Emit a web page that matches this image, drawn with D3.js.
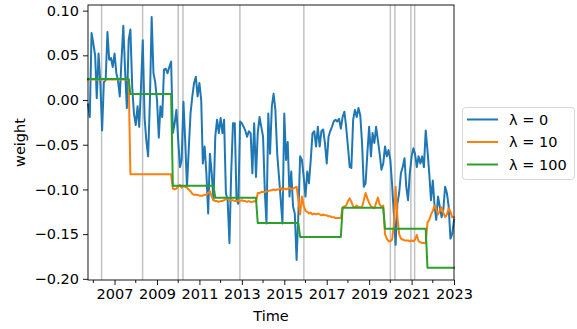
<!DOCTYPE html>
<html>
<head>
<meta charset="utf-8">
<script src="https://cdn.jsdelivr.net/npm/d3@7"></script>
<style>
  html, body { margin: 0; padding: 0; background: #fff; }
  svg { display: block; font-family: "DejaVu Sans", sans-serif; }
</style>
</head>
<body>
<svg id="chart" width="577" height="329"></svg>
<script>
// Monthly portfolio weights, first observation October 2005
const startMonth = new Date(2005, 9, 1);

// λ = 0 (no smoothing penalty)
const weightLambda0 = [
  -0.005, -0.019, 0.075, 0.063, 0.050, 0.002, 0.052, 0.019, -0.034, 0.020, 0.022, 0.076,
  0.045, 0.047, 0.037, 0.052, 0.030, 0.022, 0.004, 0.045, 0.083, 0.034, -0.009, 0.067,
  0.079, 0.015, -0.015, -0.028, -0.007, -0.030, 0.015, 0.067, -0.020, -0.045, -0.063, 0.000,
  0.093, 0.030, 0.020, 0.000, -0.042, -0.007, -0.019, 0.034, 0.035, 0.030, 0.037, 0.043,
  -0.037, -0.026, -0.011, -0.045, -0.075, -0.067, -0.002, -0.045, -0.097, -0.056, -0.015, 0.004,
  0.019, 0.026, 0.004, 0.019, 0.000, -0.071, -0.052, -0.082, -0.127, -0.060, -0.082, -0.112,
  -0.041, -0.022, -0.037, -0.020, -0.037, -0.022, -0.104, -0.112, -0.160, -0.082, -0.026, -0.026,
  -0.112, -0.116, -0.024, -0.026, -0.030, -0.034, -0.041, -0.035, -0.037, -0.082, -0.026, -0.086,
  -0.037, -0.019, -0.030, -0.041, -0.104, -0.138, -0.015, -0.060, -0.007, 0.007, -0.011, -0.060,
  -0.085, -0.112, -0.138, -0.015, -0.067, -0.047, -0.108, -0.080, -0.119, -0.127, -0.179, -0.127,
  -0.063, -0.067, -0.086, -0.108, -0.080, -0.093, -0.067, -0.037, -0.035, -0.052, -0.030, -0.052,
  -0.035, -0.033, -0.048, -0.071, -0.041, -0.035, -0.030, -0.024, -0.022, -0.024, -0.021, -0.032,
  -0.019, -0.013, -0.030, -0.052, -0.075, -0.076, -0.022, -0.011, -0.019, -0.009, -0.017, -0.048,
  -0.097, -0.093, -0.060, -0.030, -0.063, -0.037, -0.048, -0.030, -0.045, -0.060, -0.078, -0.071,
  -0.052, -0.063, -0.056, -0.067, -0.095, -0.127, -0.162, -0.116, -0.104, -0.082, -0.075, -0.065,
  -0.097, -0.112, -0.082, -0.063, -0.054, -0.060, -0.075, -0.063, -0.071, -0.063, -0.075, -0.034,
  -0.056, -0.082, -0.112, -0.090, -0.119, -0.134, -0.108, -0.119, -0.131, -0.123, -0.097, -0.104,
  -0.119, -0.155, -0.150, -0.134
];

// λ = 10
const weightLambda10 = [
  0.023, 0.023, 0.023, 0.023, 0.023, 0.023, 0.023, 0.023, 0.023, 0.023, 0.023, 0.023,
  0.023, 0.023, 0.023, 0.023, 0.023, 0.023, 0.023, 0.023, 0.023, 0.023, 0.023, 0.023,
  -0.083, -0.083, -0.083, -0.083, -0.083, -0.083, -0.083, -0.083, -0.083, -0.083, -0.083, -0.083,
  -0.083, -0.083, -0.083, -0.083, -0.083, -0.083, -0.083, -0.083, -0.083, -0.083, -0.083, -0.083,
  -0.099, -0.100, -0.099, -0.097, -0.095, -0.098, -0.096, -0.097, -0.098, -0.100, -0.102, -0.105,
  -0.106, -0.106, -0.106, -0.107, -0.107, -0.107, -0.106, -0.106, -0.104, -0.102, -0.108, -0.112,
  -0.113, -0.113, -0.114, -0.113, -0.113, -0.112, -0.111, -0.110, -0.112, -0.112, -0.112, -0.113,
  -0.113, -0.112, -0.113, -0.112, -0.113, -0.113, -0.114, -0.113, -0.114, -0.114, -0.113, -0.114,
  -0.104, -0.104, -0.103, -0.103, -0.103, -0.102, -0.102, -0.101, -0.101, -0.100, -0.101, -0.100,
  -0.100, -0.098, -0.101, -0.099, -0.100, -0.099, -0.098, -0.100, -0.099, -0.098, -0.097, -0.112,
  -0.128, -0.108, -0.118, -0.124, -0.125, -0.127, -0.126, -0.128, -0.127, -0.128, -0.127, -0.128,
  -0.129, -0.128, -0.129, -0.129, -0.130, -0.130, -0.131, -0.131, -0.132, -0.132, -0.132, -0.132,
  -0.120, -0.119, -0.118, -0.113, -0.110, -0.114, -0.119, -0.120, -0.118, -0.120, -0.120, -0.120,
  -0.112, -0.104, -0.110, -0.115, -0.119, -0.120, -0.121, -0.115, -0.109, -0.117, -0.119, -0.118,
  -0.150, -0.155, -0.158, -0.158, -0.156, -0.140, -0.097, -0.130, -0.150, -0.155, -0.156, -0.157,
  -0.157, -0.157, -0.158, -0.157, -0.158, -0.156, -0.151, -0.158, -0.159, -0.160, -0.160, -0.160,
  -0.137, -0.134, -0.128, -0.124, -0.118, -0.122, -0.128, -0.124, -0.120, -0.126, -0.131, -0.128,
  -0.121, -0.125, -0.131, -0.131
];

// λ = 100: weight held constant over each 24‑month rebalancing period
const weightLambda100Levels = [0.0235, 0.0067, -0.0959, -0.1093, -0.1376, -0.1532, -0.1205, -0.1440, -0.1876];
const holdMonths = 24;

// Marked event dates (vertical guides)
const eventDates = [
  "2006-05-23", "2008-04-28", "2010-01-01", "2010-03-24", "2012-11-28",
  "2015-12-04", "2020-01-01", "2020-03-20", "2020-12-20", "2021-02-22"
];

const yTicks = [-0.20, -0.15, -0.10, -0.05, 0.00, 0.05, 0.10];
const seriesNames = ["λ = 0", "λ = 10", "λ = 100"];
const seriesColors = ["#1f77b4", "#ff7f0e", "#2ca02c"];

// ---- assemble series ----
const months = weightLambda0.map((_, i) => d3.timeMonth.offset(startMonth, i));
const weightLambda100 = months.map((_, i) =>
  weightLambda100Levels[Math.min(Math.floor(i / holdMonths), weightLambda100Levels.length - 1)]);
const series = [weightLambda0, weightLambda10, weightLambda100];

// ---- layout ----
const svg = d3.select("#chart");
const plot = { left: 88, right: 454, top: 5, bottom: 280 };
const fontSize = 14.5;

const x = d3.scaleTime()
  .domain([months[0], months[months.length - 1]])
  .range([plot.left, plot.right]);
const y = d3.scaleLinear()
  .domain([-0.2013, 0.1063])
  .range([plot.bottom, plot.top]);

const parse = d3.timeParse("%Y-%m-%d");

// event guides
svg.append("g").selectAll("line")
  .data(eventDates.map(parse))
  .join("line")
  .attr("x1", d => x(d)).attr("x2", d => x(d))
  .attr("y1", plot.top).attr("y2", plot.bottom)
  .attr("stroke", "#c2c2c2")
  .attr("stroke-width", 1.5);

// series lines
const line = d3.line()
  .x((d, i) => x(months[i]))
  .y(d => y(d));

svg.append("g")
  .attr("clip-path", null)
  .selectAll("path")
  .data(series)
  .join("path")
  .attr("d", d => line(d))
  .attr("fill", "none")
  .attr("stroke", (d, i) => seriesColors[i])
  .attr("stroke-width", 2)
  .attr("stroke-linejoin", "round")
  .attr("stroke-linecap", "square");

// ---- axes ----
const minus = s => s.replace("-", "\u2212");

const yAxis = d3.axisLeft(y)
  .tickValues(yTicks)
  .tickFormat(d => minus(d3.format(".2f")(d)))
  .tickSize(5)
  .tickPadding(4);
const gy = svg.append("g")
  .attr("transform", `translate(${plot.left},0)`)
  .call(yAxis);

const majorYears = d3.range(2007, 2024, 2).map(yr => new Date(yr, 0, 1));
const minorYears = d3.range(2006, 2023, 2).map(yr => new Date(yr, 0, 1));

const xAxis = d3.axisBottom(x)
  .tickValues(majorYears)
  .tickFormat(d3.timeFormat("%Y"))
  .tickSize(5)
  .tickPadding(4);
const gx = svg.append("g")
  .attr("transform", `translate(0,${plot.bottom})`)
  .call(xAxis);

svg.append("g")
  .attr("transform", `translate(0,${plot.bottom})`)
  .selectAll("line")
  .data(minorYears)
  .join("line")
  .attr("x1", d => x(d)).attr("x2", d => x(d))
  .attr("y1", 0).attr("y2", 3)
  .attr("stroke", "#000")
  .attr("stroke-width", 0.9);

[gx, gy].forEach(g => {
  g.select(".domain").remove();
  g.selectAll(".tick line").attr("stroke", "#000").attr("stroke-width", 0.9);
  g.selectAll(".tick text")
    .attr("fill", "#000")
    .style("font-size", fontSize + "px")
    .style("font-family", "DejaVu Sans, sans-serif");
});

// frame
svg.append("rect")
  .attr("x", plot.left).attr("y", plot.top)
  .attr("width", plot.right - plot.left)
  .attr("height", plot.bottom - plot.top)
  .attr("fill", "none")
  .attr("stroke", "#000")
  .attr("stroke-width", 0.9);

// axis titles
svg.append("text")
  .attr("x", (plot.left + plot.right) / 2)
  .attr("y", 321)
  .attr("text-anchor", "middle")
  .style("font-size", fontSize + "px")
  .text("Time");

svg.append("text")
  .attr("transform", `translate(25,${(plot.top + plot.bottom) / 2}) rotate(-90)`)
  .attr("text-anchor", "middle")
  .style("font-size", fontSize + "px")
  .text("weight");

// ---- legend ----
const legend = svg.append("g").attr("transform", "translate(462,107)");
legend.append("rect")
  .attr("x", 0.5).attr("y", 0.5)
  .attr("width", 112).attr("height", 72)
  .attr("rx", 3)
  .attr("fill", "#fff")
  .attr("stroke", "#d6d6d6")
  .attr("stroke-width", 1);

const rows = legend.selectAll("g.row")
  .data(seriesNames)
  .join("g")
  .attr("class", "row")
  .attr("transform", (d, i) => `translate(0,${12.5 + i * 22.5})`);
rows.append("line")
  .attr("x1", 5).attr("x2", 36)
  .attr("stroke", (d, i) => seriesColors[i])
  .attr("stroke-width", 2);
rows.append("text")
  .attr("x", 47)
  .attr("dy", "0.36em")
  .style("font-size", fontSize + "px")
  .text(d => d);
</script>
</body>
</html>
